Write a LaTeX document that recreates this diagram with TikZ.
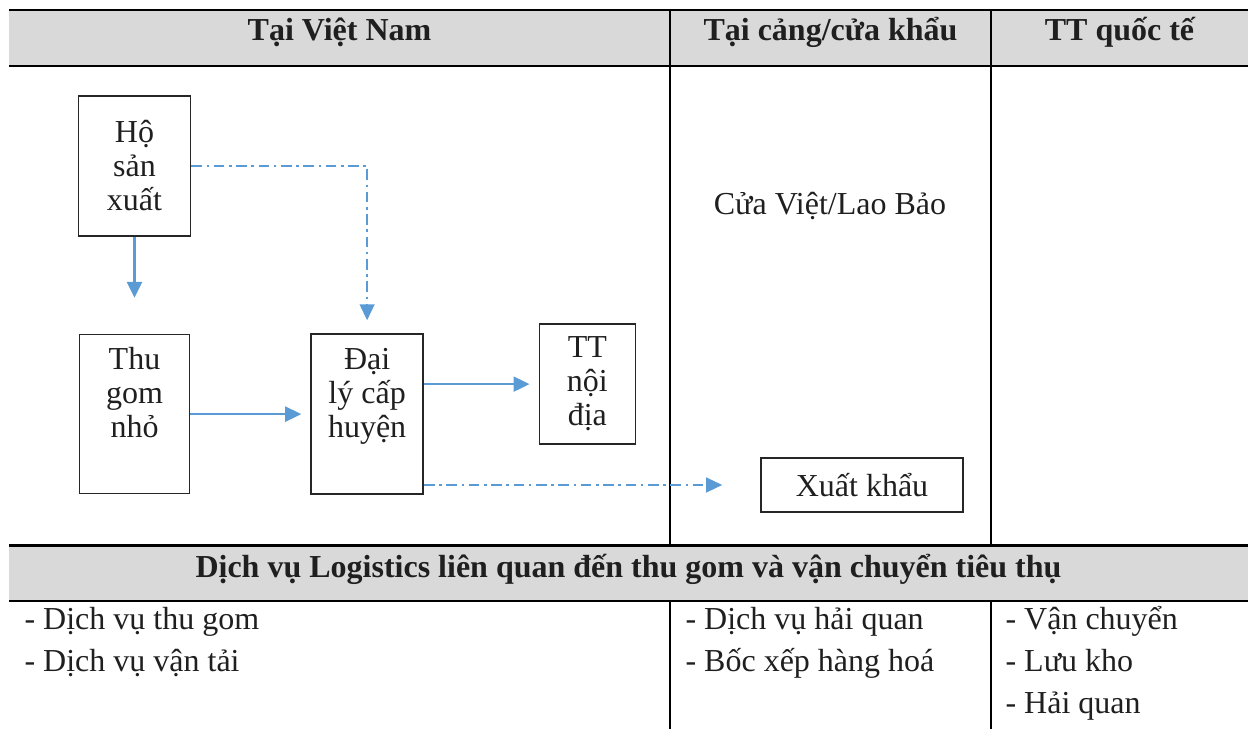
\documentclass[tikz,border=0pt]{standalone}
\usepackage{fontspec}
\setmainfont{Liberation Serif}
\usepackage{xcolor}
\definecolor{CArrow}{HTML}{5B9BD5}
\definecolor{CHead}{HTML}{D9D9D9}
\definecolor{CText}{HTML}{1F1F1F}
\usepackage{tikz}
\usetikzlibrary{arrows.meta,positioning}
\tikzstyle{boxNode}=[rectangle, draw=black!85, line width=0.6pt, inner sep=2pt,
  text width=31pt, align=flush center, font=\fontsize{12}{12.75}\selectfont, text=CText]
\tikzstyle{tallNode}=[boxNode, text height=9pt, text depth=42.5pt]
\tikzstyle{headText}=[anchor=base, inner sep=0pt, font=\bfseries\fontsize{12}{14}\selectfont, text=CText]
\tikzstyle{plainText}=[anchor=base, inner sep=0pt, font=\fontsize{12}{14}\selectfont, text=CText]
\tikzstyle{itemText}=[anchor=base west, inner sep=0pt, text width=100pt, align=flush left,
  font=\fontsize{12}{15.9}\selectfont, text=CText]
\tikzstyle{tableLine}=[line width=0.8pt, draw=black]
\tikzstyle{arr}=[-{Triangle[length=6pt,width=5.6pt]}, line width=1pt, draw=CArrow]
\tikzstyle{arrDash}=[arr, line width=0.6pt, dash pattern=on 4pt off 1.7pt on 1pt off 1.7pt]

\begin{document}
\begin{tikzpicture}[x=0.375pt, y=-0.375pt]
\useasboundingbox (0,0) rectangle (1248,729);
% table frame
\fill[CHead] (9,10) rectangle (1248,66);
\fill[CHead] (9,545.5) rectangle (1248,601);
\draw[tableLine] (9,10) -- (1248,10) (9,66) -- (1248,66);
\draw[tableLine] (9,545.5) -- (1248,545.5) (9,601) -- (1248,601);
\foreach \xc in {670,991} {
  \draw[tableLine] (\xc,10) -- (\xc,545.5) (\xc,601) -- (\xc,729);
}
\node[headText] (hVN) at (339.5,41) {Tại Việt Nam};
\node[headText] (hCang) at (830.5,41) {Tại cảng/cửa khẩu};
\node[headText] (hQT) at (1119.5,41) {TT quốc tế};
\node[headText] (hDV) at (628.5,578) {Dịch vụ Logistics liên quan đến thu gom và vận chuyển tiêu thụ};
% flow
\node[boxNode, minimum width=42pt, minimum height=52.5pt] (ho) at (134.5,166) {Hộ\\sản\\xuất};
\node[tallNode, minimum width=41.25pt, minimum height=59.6pt, below=36.4pt of ho] (thugom) {Thu\\gom\\nhỏ};
\node[tallNode, minimum width=42pt, minimum height=60pt, right=45pt of thugom] (daily) {Đại\\lý cấp\\huyện};
\node[boxNode, minimum width=36pt, minimum height=45pt, right=43pt of daily, yshift=11.25pt] (tt) {TT\\nội\\địa};
\node[plainText] (cuaviet) at (830,215) {Cửa Việt/Lao Bảo};
\node[boxNode, text width=60pt, minimum width=75.75pt, minimum height=20.25pt] (xk) at (862,485) {Xuất khẩu};
\draw[arr, shorten >=13.5pt] (ho) -- (thugom);
\draw[arr, shorten >=3.4pt] (thugom) -- (daily);
\draw[arr, shorten >=3.4pt] (daily.east |- tt) -- (tt);
\draw[arrDash, shorten >=4.9pt] (ho) -| (daily);
\draw[arrDash, shorten >=14.25pt] (daily.east |- xk) -- (xk);
% services
\node[itemText] (svVN) at (24,629) {- Dịch vụ thu gom\\- Dịch vụ vận tải};
\node[itemText] (svCang) at (685,629) {- Dịch vụ hải quan\\- Bốc xếp hàng hoá};
\node[itemText, text width=80pt] (svQT) at (1005,629) {- Vận chuyển\\- Lưu kho\\- Hải quan};
\end{tikzpicture}
\end{document}
